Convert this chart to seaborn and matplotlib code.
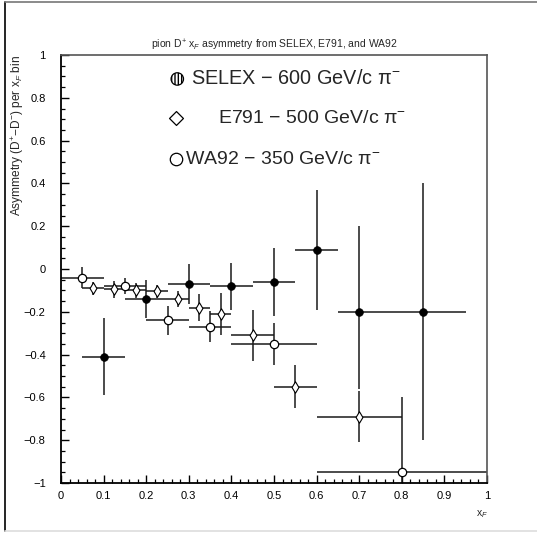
import matplotlib
matplotlib.use("Agg")
import matplotlib.pyplot as plt
from matplotlib.lines import Line2D
from matplotlib.ticker import MultipleLocator, FixedLocator, FixedFormatter
import seaborn as sns
import pandas as pd

# ---------------- data ----------------
selex_x = [0.1, 0.2, 0.3, 0.4, 0.5, 0.6, 0.7, 0.85]
selex_y = [-0.41, -0.14, -0.07, -0.08, -0.06, 0.09, -0.20, -0.20]
selex_yerr_lo = [0.18, 0.09, 0.095, 0.11, 0.16, 0.28, 0.36, 0.60]
selex_yerr_hi = [0.18, 0.09, 0.095, 0.11, 0.16, 0.28, 0.40, 0.60]
selex_xerr = [0.05, 0.05, 0.05, 0.05, 0.05, 0.05, 0.05, 0.10]

e791_x = [0.075, 0.125, 0.175, 0.225, 0.275, 0.325, 0.375, 0.45, 0.55, 0.70]
e791_y = [-0.09, -0.095, -0.10, -0.105, -0.14, -0.18, -0.21, -0.31, -0.55, -0.69]
e791_yerr = [0.03, 0.04, 0.035, 0.03, 0.036, 0.065, 0.097, 0.12, 0.10, 0.12]
e791_xerr = [0.025, 0.025, 0.025, 0.025, 0.025, 0.025, 0.025, 0.05, 0.05, 0.10]

wa92_x = [0.05, 0.15, 0.25, 0.35, 0.50, 0.80]
wa92_y = [-0.04, -0.08, -0.24, -0.27, -0.35, -0.95]
wa92_yerr = [0.05, 0.037, 0.068, 0.072, 0.10, 0.35]
wa92_xerr = [0.05, 0.05, 0.05, 0.05, 0.10, 0.20]

xtick_values = [0, 0.1, 0.2, 0.3, 0.4, 0.5, 0.6, 0.7, 0.8, 0.9, 1.0]
xtick_labels = ["0", "0.1", "0.2", "0.3", "0.4", "0.5", "0.6", "0.7", "0.8", "0.9", "1"]
ytick_values = [-1, -0.8, -0.6, -0.4, -0.2, 0, 0.2, 0.4, 0.6, 0.8, 1.0]
ytick_labels = ["\u22121", "\u22120.8", "\u22120.6", "\u22120.4", "\u22120.2", "0",
                "0.2", "0.4", "0.6", "0.8", "1"]

legend_labels = ["SELEX \u2212 600 GeV/c \u03c0$^{-}$",
                 "E791 \u2212 500 GeV/c \u03c0$^{-}$",
                 "WA92 \u2212 350 GeV/c \u03c0$^{-}$"]

title = "pion D$^{+}$ x$_{F}$ asymmetry from SELEX, E791, and WA92"
ylabel = "Asymmetry (D$^{+}$\u2212D$^{-}$) per x$_{F}$ bin"
xlabel = "x$_{F}$"

# ---------------- style ----------------
sns.set_style("ticks")
plt.rcParams["font.family"] = ["Liberation Sans", "DejaVu Sans"]
plt.rcParams["mathtext.fontset"] = "custom"
plt.rcParams["mathtext.rm"] = "Liberation Sans"
plt.rcParams["mathtext.it"] = "Liberation Sans:italic"
plt.rcParams["mathtext.fallback"] = "cm"

W = 537.0
fig = plt.figure(figsize=(5.37, 5.37), dpi=100)
fig.patch.set_facecolor("white")
ax = fig.add_axes([61 / W, 1 - 483 / W, 426 / W, 428 / W])
ax.set_facecolor("white")

ecol = "#1a1a1a"
lw_err = 1.1

sel = pd.DataFrame({"xF": selex_x, "A": selex_y})
e79 = pd.DataFrame({"xF": e791_x, "A": e791_y})
wa = pd.DataFrame({"xF": wa92_x, "A": wa92_y})

ax.errorbar(selex_x, selex_y, yerr=[selex_yerr_lo, selex_yerr_hi], xerr=selex_xerr,
            fmt="none", ecolor=ecol, elinewidth=lw_err, capsize=0, zorder=2)
ax.errorbar(e791_x, e791_y, yerr=e791_yerr, xerr=e791_xerr,
            fmt="none", ecolor=ecol, elinewidth=lw_err, capsize=0, zorder=2)
ax.errorbar(wa92_x, wa92_y, yerr=wa92_yerr, xerr=wa92_xerr,
            fmt="none", ecolor=ecol, elinewidth=lw_err, capsize=0, zorder=2)

sns.scatterplot(data=sel, x="xF", y="A", ax=ax, marker="o", s=30, color="black",
                edgecolor="black", linewidth=0.6, legend=False, zorder=4)
sns.scatterplot(data=e79, x="xF", y="A", ax=ax, marker="d", s=34, color="white",
                edgecolor="black", linewidth=0.8, legend=False, zorder=4)
sns.scatterplot(data=wa, x="xF", y="A", ax=ax, marker="o", s=36, color="white",
                edgecolor="black", linewidth=0.9, legend=False, zorder=4)

# in-plot legend
ax.scatter([0.273], [0.888], s=80, marker="o", facecolor="white", edgecolor="black",
           hatch="|||||", linewidth=0.9, zorder=5)
ax.scatter([0.270], [0.704], s=50, marker="D", facecolor="white", edgecolor="black",
           linewidth=0.9, zorder=5)
ax.scatter([0.270], [0.513], s=80, marker="o", facecolor="white", edgecolor="black",
           linewidth=0.9, zorder=5)
ax.text(0.306, 0.888, legend_labels[0], fontsize=14.3, va="center", ha="left")
ax.text(0.369, 0.704, legend_labels[1], fontsize=14, va="center", ha="left")
ax.text(0.292, 0.513, legend_labels[2], fontsize=14, va="center", ha="left")

# axes
ax.set_xlim(0, 1)
ax.set_ylim(-1, 1)
ax.xaxis.set_major_locator(FixedLocator(xtick_values))
ax.xaxis.set_major_formatter(FixedFormatter(xtick_labels))
ax.yaxis.set_major_locator(FixedLocator(ytick_values))
ax.yaxis.set_major_formatter(FixedFormatter(ytick_labels))
ax.xaxis.set_minor_locator(MultipleLocator(0.02))
ax.yaxis.set_minor_locator(MultipleLocator(0.05))
ax.tick_params(which="both", direction="in", top=False, right=False,
               colors="black", labelsize=8)
ax.tick_params(which="major", length=6, width=1.0)
ax.tick_params(which="minor", length=3.2, width=0.9)
ax.tick_params(axis="x", pad=6)
ax.tick_params(axis="y", pad=11)
ax.set_xlabel("")
ax.set_ylabel("")
for side in ["left", "bottom"]:
    ax.spines[side].set_linewidth(1.3)
    ax.spines[side].set_color("black")
for side in ["top", "right"]:
    ax.spines[side].set_linewidth(1.2)
    ax.spines[side].set_color("#555555")
    ax.spines[side].set_visible(True)

fig.text(274 / W, 1 - 45 / W, title, ha="center", va="center", fontsize=7.5)
fig.text(18 / W, 1 - 55 / W, ylabel, rotation=90, ha="center", va="top", fontsize=8.6)
fig.text(482 / W, 1 - 514 / W, xlabel, ha="center", va="center", fontsize=7.5)

# outer frame
fig.add_artist(Line2D([5 / W, 5 / W], [1 - 2 / W, 1 - 531 / W], transform=fig.transFigure,
                      color="black", linewidth=1.2))
fig.add_artist(Line2D([5 / W, 1.0], [1 - 2 / W, 1 - 2 / W], transform=fig.transFigure,
                      color="#777777", linewidth=1.2))
fig.add_artist(Line2D([5 / W, 1.0], [1 - 531 / W, 1 - 531 / W], transform=fig.transFigure,
                      color="#dddddd", linewidth=1.2))

fig.savefig("out.png", dpi=100)
